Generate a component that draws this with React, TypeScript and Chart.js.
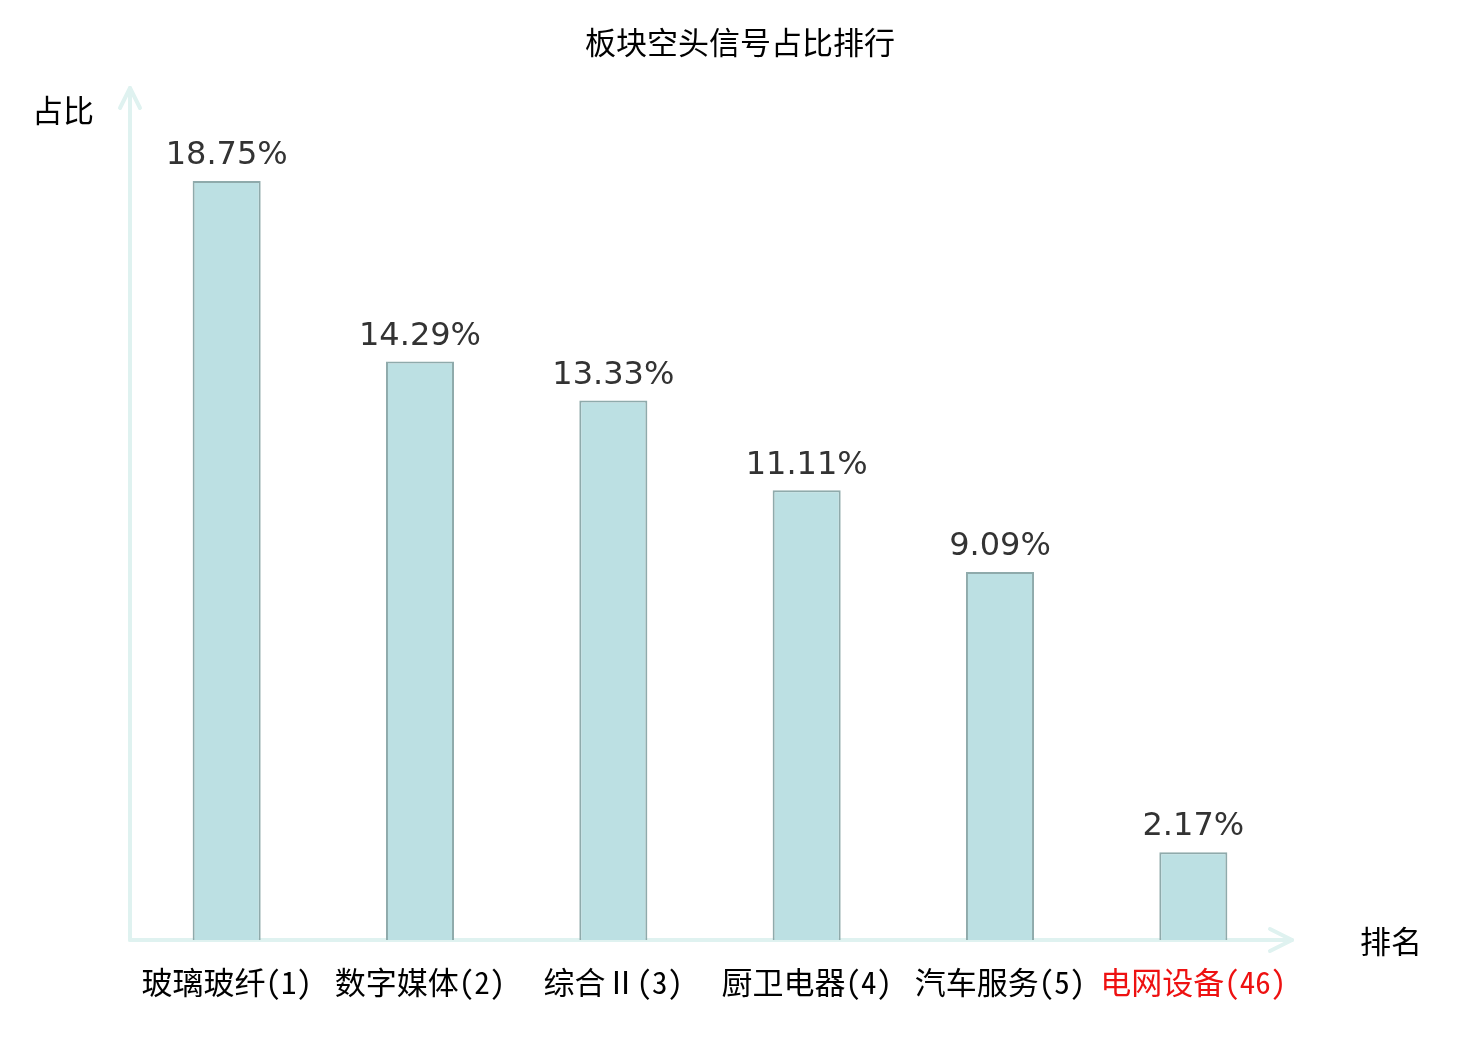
import { useEffect, useRef } from "react";
import { Chart, registerables } from "chart.js";

Chart.register(...registerables);

// data
const sectors = ["玻璃玻纤(1)", "数字媒体(2)", "综合Ⅱ(3)", "厨卫电器(4)", "汽车服务(5)", "电网设备(46)"];
const ratios = [18.75, 14.29, 13.33, 11.11, 9.09, 2.17];
const labelColors = ["#000000", "#000000", "#000000", "#000000", "#000000", "#ee1111"];

const TITLE = "板块空头信号占比排行";
const Y_NAME = "占比";
const X_NAME = "排名";

const CJK = "'Noto Sans Mono CJK SC', 'Noto Sans CJK SC', sans-serif";
const AXIS_COLOR = "#dff2f0";

// draws title, axis arrows, axis names, category labels and value labels
const decorPlugin = {
  id: "decor",
  beforeDatasetsDraw(chart: any) {
    const { ctx, chartArea } = chart;
    const { left, right, top, bottom } = chartArea;
    ctx.save();
    ctx.strokeStyle = AXIS_COLOR;
    ctx.lineWidth = 4;
    ctx.lineCap = "round";
    ctx.lineJoin = "round";
    // y axis
    ctx.beginPath();
    ctx.moveTo(left, bottom);
    ctx.lineTo(left, top - 2);
    ctx.stroke();
    ctx.beginPath();
    ctx.moveTo(left - 10, top + 18);
    ctx.lineTo(left, top - 2);
    ctx.lineTo(left + 10, top + 18);
    ctx.stroke();
    // x axis
    ctx.beginPath();
    ctx.moveTo(left, bottom);
    ctx.lineTo(right + 2, bottom);
    ctx.stroke();
    ctx.beginPath();
    ctx.moveTo(right - 20, bottom - 11);
    ctx.lineTo(right + 2, bottom);
    ctx.lineTo(right - 20, bottom + 11);
    ctx.stroke();
    ctx.restore();
  },
  afterDatasetsDraw(chart: any) {
    const { ctx, chartArea, scales } = chart;
    const meta = chart.getDatasetMeta(0);
    ctx.save();
    ctx.textAlign = "center";
    ctx.textBaseline = "middle";

    // title
    ctx.fillStyle = "#000";
    ctx.font = `31px ${CJK}`;
    ctx.fillText(TITLE, chart.width / 2, 42);

    // axis names
    ctx.fillText(Y_NAME, 63, 110);
    ctx.fillText(X_NAME, 1391, 941);

    // category labels
    sectors.forEach((s, i) => {
      ctx.fillStyle = labelColors[i];
      ctx.fillText(s, scales.x.getPixelForValue(i), chartArea.bottom + 42);
    });

    // value labels
    ctx.fillStyle = "#333";
    ctx.font = "32px 'DejaVu Sans', sans-serif";
    meta.data.forEach((bar: any, i: number) => {
      ctx.fillText(ratios[i].toFixed(2) + "%", bar.x, bar.y - 25);
    });
    ctx.restore();
  },
};

export default function App() {
  const canvasRef = useRef<HTMLCanvasElement | null>(null);
  const chartRef = useRef<Chart | null>(null);

  useEffect(() => {
    if (!canvasRef.current) return;
    const ctx = canvasRef.current.getContext("2d");
    if (!ctx) return;

    chartRef.current = new Chart(ctx, {
      type: "bar",
      data: {
        labels: sectors,
        datasets: [
          {
            data: ratios,
            backgroundColor: "#bce0e3",
            borderColor: "#8faaab",
            borderWidth: 2,
            categoryPercentage: 1,
            barPercentage: 0.352,
          },
        ],
      },
      options: {
        responsive: false,
        animation: false,
        devicePixelRatio: 1,
        layout: { padding: { left: 130, right: 190, top: 90, bottom: 100 } },
        scales: {
          x: { display: false },
          y: { display: false, min: 0, max: 21 },
        },
        plugins: {
          legend: { display: false },
          tooltip: { enabled: false },
        },
      } as any,
      plugins: [decorPlugin],
    });

    return () => {
      chartRef.current?.destroy();
      chartRef.current = null;
    };
  }, []);

  return (
    <div style={{ position: "absolute", left: 0, top: 0, width: 1480, height: 1040, background: "#fff" }}>
      <canvas ref={canvasRef} width={1480} height={1040}></canvas>
    </div>
  );
}
